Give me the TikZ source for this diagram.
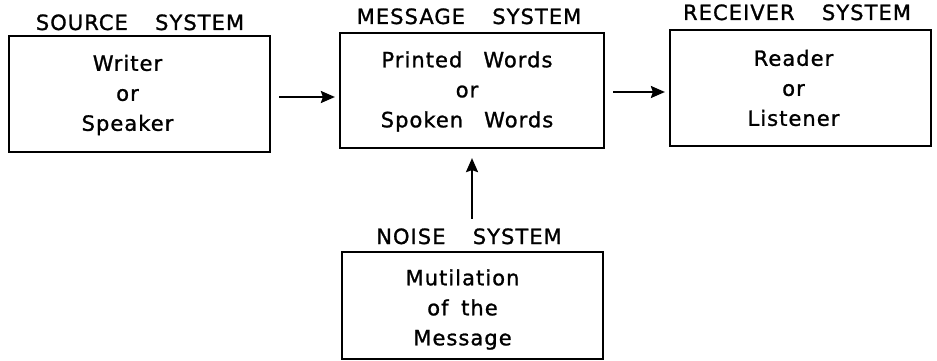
\documentclass[tikz,border=0pt]{standalone}
\usepackage{fontspec}
\setmainfont{DejaVu Sans}[LetterSpace=5,FakeBold=1.2]
\usetikzlibrary{arrows.meta,calc}
\begin{document}
\begin{tikzpicture}[x=1pt,y=-1pt,
 box/.style={draw, line width=2.2pt, minimum width=261pt, minimum height=116pt, inner sep=0pt},
 txt/.style={align=center, inner sep=0pt, font=\fontsize{21}{30}\selectfont},
 lbl/.style={font=\fontsize{21}{22}\selectfont, inner sep=0pt, anchor=base},
 arr/.style={line width=2.2pt, -{Stealth[length=14pt,width=12pt,inset=2pt]}}]
\useasboundingbox (0,0) rectangle (937,361);
\node[box] (src) at (139.5,94) {};
\node[box, minimum width=264pt, minimum height=115pt] (msg) at (472,90.5) {};
\node[box] (rcv) at (800.5,88) {};
\node[box, minimum height=107pt] (noi) at (472.5,305.5) {};
\node[txt] (srct) at ($(src.center)+(-12,1)$) {Writer\\or\\Speaker};
\node[txt] (msgt) at ($(msg.center)+(-5,1)$) {Printed\hspace{1em}Words\\or\\Spoken\hspace{1em}Words};
\node[txt] (rcvt) at ($(rcv.center)+(-7,0)$) {Reader\\or\\Listener};
\node[txt] (noit) at ($(noi.center)+(-10,4)$) {Mutilation\\of\hspace{0.6em}the\\Message};
\node[lbl] (srcl) at (140,30) {SOURCE\hspace{1.3em}SYSTEM};
\node[lbl] (msgl) at (469,24) {MESSAGE\hspace{1.3em}SYSTEM};
\node[lbl] (rcvl) at (797,20) {RECEIVER\hspace{1.3em}SYSTEM};
\node[lbl] (noil) at (469,244) {NOISE\hspace{1.3em}SYSTEM};
\draw[arr] ($(src.east)+(8,3)$) -- ($(msg.west)+(-4,6.5)$);
\draw[arr] ($(msg.east)+(8,1.5)$) -- ($(rcv.west)+(-4,4)$);
\draw[arr] ($(noi.north)+(-0.5,-32)$) -- ($(msg.south)+(0,9)$);
\end{tikzpicture}
\end{document}
